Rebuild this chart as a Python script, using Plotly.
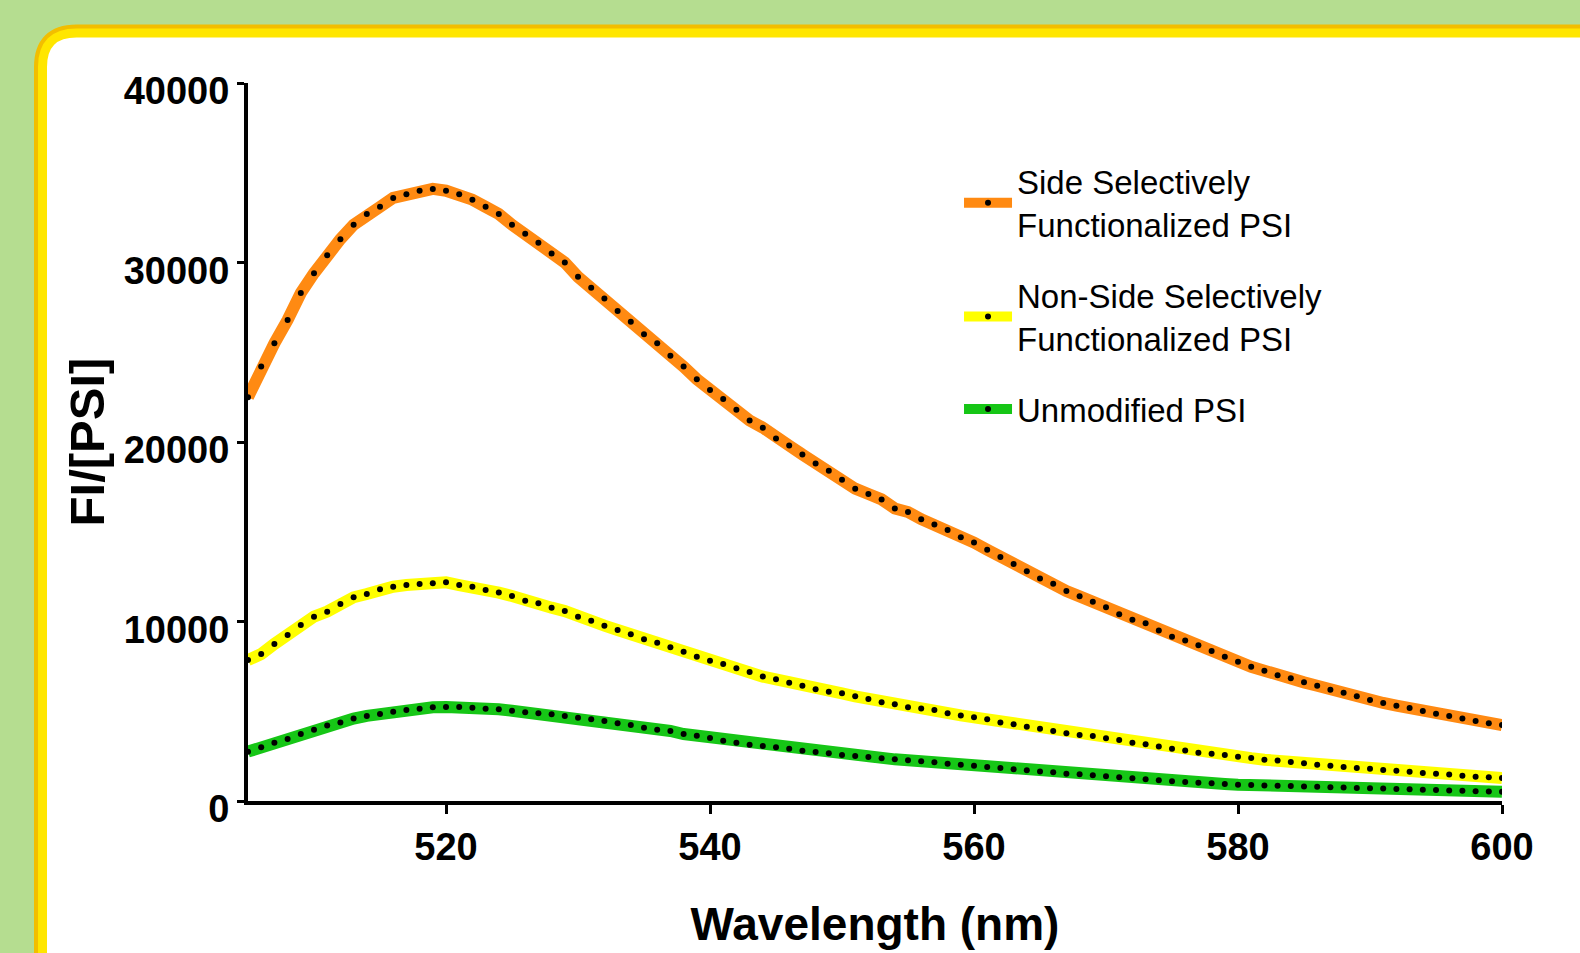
import plotly.graph_objects as go

wavelength = list(range(505, 601))

side_selective = [
    22500, 24200, 25500, 26800, 28300, 29400, 30400, 31300, 32100, 32700,
    33100, 33600, 33800, 34000, 34100, 34000, 33800, 33500, 33100, 32700,
    32100, 31600, 31100, 30500, 30000, 29200, 28600, 28000, 27300, 26700,
    26000, 25500, 24800, 24200, 23500, 22900, 22400, 21800, 21200, 20800,
    20200, 19800, 19300, 18800, 18400, 17900, 17400, 17100, 16800, 16300,
    16100, 15700, 15400, 15100, 14700, 14400, 14000, 13600, 13200, 12800,
    12400, 12100, 11700, 11400, 11100, 10800, 10400, 10100, 9900, 9500,
    9150, 8940, 8680, 8360, 8040, 7760, 7480, 7260, 7000, 6840,
    6610, 6420, 6200, 6030, 5830, 5630, 5460, 5310, 5180, 5010,
    4860, 4740, 4590, 4460, 4330, 4230,
]

non_side_selective = [
    7850, 8190, 8750, 9250, 9810, 10270, 10550, 10970, 11350, 11530,
    11790, 11940, 12030, 12090, 12130, 12180, 12030, 11940, 11750, 11610,
    11420, 11160, 11010, 10770, 10580, 10270, 10040, 9770, 9530, 9290,
    9010, 8820, 8560, 8320, 8040, 7820, 7630, 7390, 7190, 6930,
    6780, 6590, 6420, 6220, 6090, 6000, 5830, 5680, 5500, 5390,
    5220, 5160, 5070, 4890, 4770, 4660, 4550, 4380, 4270, 4140,
    4030, 3900, 3770, 3680, 3620, 3490, 3400, 3250, 3160, 3030,
    2910, 2820, 2690, 2630, 2560, 2470, 2390, 2300, 2250, 2170,
    2100, 2020, 1970, 1890, 1840, 1800, 1730, 1690, 1630, 1560,
    1520, 1470, 1410, 1350, 1320, 1280,
]

unmodified = [
    2750, 2990, 3250, 3450, 3730, 3970, 4200, 4380, 4590, 4740,
    4850, 4970, 5070, 5140, 5220, 5240, 5240, 5200, 5140, 5110,
    5030, 4940, 4890, 4830, 4740, 4640, 4550, 4460, 4330, 4230,
    4080, 3970, 3900, 3730, 3640, 3510, 3360, 3250, 3140, 3060,
    2990, 2910, 2800, 2730, 2660, 2560, 2510, 2450, 2380, 2320,
    2270, 2210, 2160, 2080, 2020, 1970, 1890, 1840, 1770, 1710,
    1650, 1600, 1520, 1490, 1430, 1380, 1320, 1270, 1210, 1150,
    1100, 1060, 1020, 990, 950, 910, 890, 870, 850, 830,
    810, 790, 770, 750, 730, 710, 690, 670, 650, 630,
    610, 590, 570, 550, 530, 520,
]

series_names = [
    "Side Selectively<br>Functionalized PSI",
    "Non-Side Selectively<br>Functionalized PSI",
    "Unmodified PSI",
]
series_values = [side_selective, non_side_selective, unmodified]
series_colors = ["#ff8a12", "#ffff00", "#16c616"]

y_ticks = [0, 10000, 20000, 30000, 40000]
x_ticks = [520, 540, 560, 580, 600]

W, H = 1580, 953
L, R, T, B = 248, 78, 83, 152
PW, PH = W - L - R, H - T - B

fig = go.Figure()
for i, (name, vals, col) in enumerate(zip(series_names, series_values, series_colors)):
    fig.add_trace(go.Scatter(
        x=wavelength, y=vals, name=name, mode="lines+markers",
        line=dict(color=col, width=12),
        marker=dict(color="black", size=6),
        legendgroup=f"g{i}",
    ))


def px2paper(px, py):
    return (px - L) / PW, (H - B - py) / PH


def panel_path(cx, cy, rad):
    x0, y_top = px2paper(cx, cy)
    x1, y_bot = px2paper(1620, 1000)
    xc, _ = px2paper(cx + rad, cy)
    _, yc = px2paper(cx, cy + rad)
    return (f"M {x0},{y_bot} L {x0},{yc} Q {x0},{y_top} {xc},{y_top} "
            f"L {x1},{y_top} L {x1},{y_bot} Z")


fig.add_shape(type="path", path=panel_path(42.5, 33, 34), xref="paper", yref="paper",
              fillcolor="white", line=dict(color="#f2be00", width=17), layer="below")
fig.add_shape(type="path", path=panel_path(42.5, 33, 34), xref="paper", yref="paper",
              fillcolor="white", line=dict(color="#ffe600", width=9), layer="below")

tick_font = dict(family="Liberation Sans, Arial", size=38, color="black", weight="bold")

fig.update_layout(
    width=W, height=H,
    margin=dict(l=L, r=R, t=T, b=B, autoexpand=False),
    paper_bgcolor="#b5dd90",
    plot_bgcolor="rgba(0,0,0,0)",
    showlegend=True,
    legend=dict(
        x=0.567, y=0.902, xanchor="left", yanchor="top",
        bgcolor="rgba(0,0,0,0)",
        font=dict(family="Liberation Sans, Arial", size=33, color="black"),
        tracegroupgap=25, valign="middle", itemwidth=48,
    ),
    xaxis=dict(
        range=[505, 600], tickvals=x_ticks, ticktext=[str(v) for v in x_ticks],
        showline=True, linecolor="black", linewidth=4,
        ticks="outside", ticklen=9, tickwidth=3, tickcolor="black",
        showgrid=False, zeroline=False, tickfont=tick_font,
        title=dict(text="Wavelength (nm)",
                   font=dict(family="Liberation Sans, Arial", size=46, color="black", weight="bold"),
                   standoff=42),
        automargin=False,
    ),
    yaxis=dict(
        range=[0, 40000], tickvals=y_ticks, ticktext=[str(v) for v in y_ticks],
        showline=True, linecolor="black", linewidth=4,
        ticks="outside", ticklen=7, tickwidth=3, tickcolor="black",
        ticklabelshift=8,
        showgrid=False, zeroline=False, tickfont=tick_font,
        title=dict(text="FI/[PSI]",
                   font=dict(family="Liberation Sans, Arial", size=49, color="black", weight="bold"),
                   standoff=5),
        automargin=False,
    ),
)

fig.write_html("out.html", config={"displayModeBar": False},
               post_script="document.body.style.margin='0';")
